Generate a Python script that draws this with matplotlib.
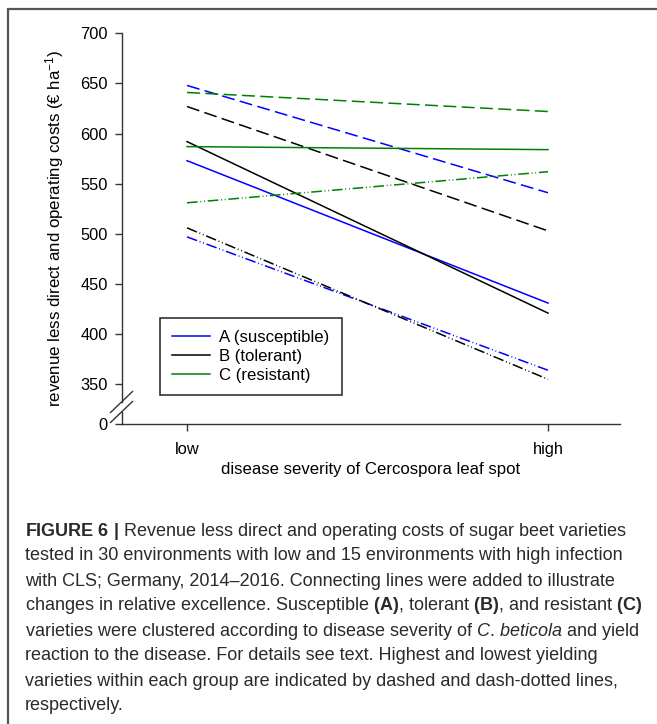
import numpy as np
import matplotlib.pyplot as plt
from matplotlib.lines import Line2D
from matplotlib.patches import Rectangle

plt.rcParams['font.family'] = 'Liberation Sans'
plt.rcParams['mathtext.fontset'] = 'custom'
plt.rcParams['mathtext.rm'] = 'Liberation Sans'
plt.rcParams['mathtext.it'] = 'Liberation Sans:italic'
plt.rcParams['mathtext.bf'] = 'Liberation Sans:bold'

# revenue less direct and operating costs (EUR/ha) at low and high CLS severity
severity = ['low', 'high']
groups = ['A (susceptible)', 'B (tolerant)', 'C (resistant)']
mean_low = [573, 592, 587]
mean_high = [431, 421, 584]
best_low = [648, 627, 641]      # highest yielding variety in group
best_high = [541, 503, 622]
worst_low = [497, 506, 531]     # lowest yielding variety in group
worst_high = [364, 355, 562]
y_ticks = [350, 400, 450, 500, 550, 600, 650, 700]

colors = ['blue', 'black', 'green']
LW = 1.1
DASHED = (0, (8.5, 3.5))
DASHDOT = (0, (7, 1.8, 0.6, 1.8, 0.6, 1.8))

W, H = 657, 724
fig = plt.figure(figsize=(W / 100, H / 100), dpi=100)

# axes box in pixels: left 121.5, right 620, top 33.3, bottom 424
ax = fig.add_axes([121.5 / W, (H - 424) / H, (620 - 121.5) / W, (424 - 33.3) / H])

x = np.arange(len(severity))
for i in range(len(groups)):
    c = colors[i]
    ax.plot(x, [best_low[i], best_high[i]], color=c, lw=LW, linestyle=DASHED)
    ax.plot(x, [worst_low[i], worst_high[i]], color=c, lw=LW, linestyle=DASHDOT)
    ax.plot(x, [mean_low[i], mean_high[i]], color=c, lw=LW, linestyle='-')

# broken y axis: everything below 350 is squeezed into a short stub ending at "0"
px_per_unit = 351 / 350
y_bottom = 700 - (424 - 33.3) / px_per_unit
ax.set_ylim(y_bottom, 700)
ax.set_xlim(-(187 - 121.5) / 361, 1 + (620 - 548) / 361)

ax.set_yticks([y_bottom] + y_ticks)
ax.set_yticklabels(['0'] + [str(v) for v in y_ticks])
ax.set_xticks(x)
ax.set_xticklabels(severity)

spine_col = '#333333'
for s in ['top', 'right']:
    ax.spines[s].set_visible(False)
for s in ['left', 'bottom']:
    ax.spines[s].set_color(spine_col)
    ax.spines[s].set_linewidth(1.0)
ax.tick_params(axis='both', colors=spine_col, labelcolor='black', labelsize=11.8,
               length=5, width=1.0, direction='out')
ax.tick_params(axis='y', pad=5)
ax.tick_params(axis='x', pad=8)

brk_hi, brk_lo = 402, 412      # pixel rows where the slashes cross the axis
v_hi = 700 - (brk_hi - 33.3) / px_per_unit
v_lo = 700 - (brk_lo - 33.3) / px_per_unit
ax.spines['left'].set_bounds(v_hi, 700)
ax.plot([0, 0], [y_bottom, v_lo], color=spine_col, lw=1.0,
        transform=ax.get_yaxis_transform(), clip_on=False)
ax_w, ax_h = 620 - 121.5, 424 - 33.3
for p in (brk_hi, brk_lo):
    fy = (424 - p) / ax_h
    ax.plot([-11 / ax_w, 11 / ax_w], [fy - 10.5 / ax_h, fy + 10.5 / ax_h],
            color=spine_col, lw=1.0, transform=ax.transAxes, clip_on=False)

ax.set_xlabel('disease severity of Cercospora leaf spot', fontsize=12.1)
ax.xaxis.set_label_coords(0.5, (424 - 462) / ax_h)
ax.set_ylabel(r'revenue less direct and operating costs (€ ha$^{-1}$)', fontsize=12.2)
ax.yaxis.set_label_coords((66 - 121.5) / ax_w, 0.5)

handles = [Line2D([0], [0], color=c, lw=LW) for c in colors]
leg = ax.legend(handles, groups, loc='upper left',
                bbox_to_anchor=(160 / W, 1 - 318 / H), bbox_transform=fig.transFigure,
                fontsize=12.1, frameon=True, fancybox=False, framealpha=1,
                edgecolor='#222222', borderaxespad=0, borderpad=0.72,
                handlelength=2.25, handletextpad=0.55, labelspacing=0.24)
leg.get_frame().set_linewidth(1.1)

# caption below the chart
caption = [
    r'$\mathbf{FIGURE\ 6\ |}$ Revenue less direct and operating costs of sugar beet varieties',
    'tested in 30 environments with low and 15 environments with high infection',
    'with CLS; Germany, 2014–2016. Connecting lines were added to illustrate',
    r'changes in relative excellence. Susceptible $\mathbf{(A)}$, tolerant $\mathbf{(B)}$, and resistant $\mathbf{(C)}$',
    r'varieties were clustered according to disease severity of $\mathit{C.\,beticola}$ and yield',
    'reaction to the disease. For details see text. Highest and lowest yielding',
    'varieties within each group are indicated by dashed and dash-dotted lines,',
    'respectively.',
]
for k, line in enumerate(caption):
    fig.text(25 / W, 1 - (535.5 + 25 * k) / H, line, fontsize=13.0,
             color='#2a2a2a', ha='left', va='baseline')

# outer frame of the figure panel
fig.add_artist(Rectangle((8 / W, -0.1), 2, 1.1 - 9 / H, transform=fig.transFigure,
                         fill=False, edgecolor='#555555', lw=1.6))

fig.savefig('out.png', dpi=100)
